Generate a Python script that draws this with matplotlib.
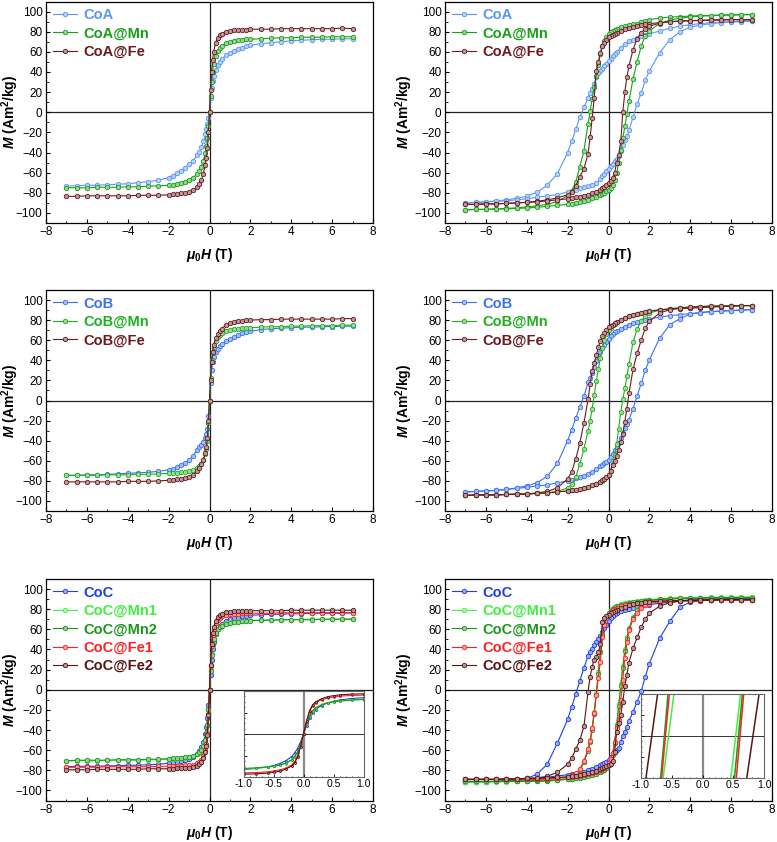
import matplotlib
matplotlib.use('Agg')
import matplotlib.pyplot as plt
from matplotlib.ticker import MultipleLocator
from matplotlib.colors import to_rgb

plt.rcParams['font.family'] = ['Liberation Sans', 'DejaVu Sans']
plt.rcParams['mathtext.fontset'] = 'custom'
plt.rcParams['mathtext.rm'] = 'Liberation Sans:bold'
plt.rcParams['mathtext.it'] = 'Liberation Sans:italic:bold'
plt.rcParams['mathtext.bf'] = 'Liberation Sans:bold'

# ---------------- field grids (T) ----------------
H_rt = [-7, -6.5, -6, -5.5, -5, -4.5, -4, -3.5, -3, -2.5, -2,
        -1.8, -1.6, -1.4, -1.2, -1, -0.8, -0.6, -0.5, -0.4, -0.3, -0.2, -0.15, -0.1, -0.05,
        0,
        0.05, 0.1, 0.15, 0.2, 0.3, 0.4, 0.5, 0.6, 0.8, 1, 1.2, 1.4, 1.6, 1.8,
        2, 2.5, 3, 3.5, 4, 4.5, 5, 5.5, 6, 6.5, 7]

H_down = [7, 6.5, 6, 5.5, 5, 4.5, 4, 3.5, 3, 2.5, 2,
          1.8, 1.6, 1.4, 1.2, 1, 0.8, 0.6, 0.4,
          0.3, 0.2, 0.1, 0,
          -0.1, -0.2, -0.3, -0.4, -0.5, -0.6, -0.7, -0.8, -0.9, -1,
          -1.2, -1.4, -1.6, -1.8, -2,
          -2.5, -3, -3.5, -4, -4.5, -5, -5.5, -6, -6.5, -7]

H_up = [-7, -6.5, -6, -5.5, -5, -4.5, -4, -3.5, -3, -2.5, -2,
        -1.8, -1.6, -1.4, -1.2, -1, -0.8, -0.6, -0.4,
        -0.3, -0.2, -0.1, 0,
        0.1, 0.2, 0.3, 0.4, 0.5, 0.6, 0.7, 0.8, 0.9, 1,
        1.2, 1.4, 1.6, 1.8, 2,
        2.5, 3, 3.5, 4, 4.5, 5, 5.5, 6, 6.5, 7]

# ---------------- left column: M(H) curves ----------------
coa_rt = [-73.5, -73, -72.5, -72.5, -72, -71.5, -71, -70, -69, -67.5, -65,
          -63, -60.5, -58, -55, -51.5, -48, -42.5, -39.5, -35, -29, -22, -17, -12, -6,
          0,
          14, 24, 31, 36, 42, 47, 50, 53, 56.5, 59, 61, 62.5, 64, 65.5,
          66.5, 68, 69, 70, 71, 71.5, 72, 72.5, 72.5, 73, 73]
coa_mn_rt = [-75, -75, -75, -74.5, -74.5, -74.5, -74, -74, -73.5, -73, -72.5,
             -72, -71, -70, -69, -67, -65, -61, -58, -54, -48, -40, -34, -26, -14,
             0,
             16, 30, 40, 48, 56, 61, 64, 66, 68.5, 70, 71, 71.5, 72, 72.5,
             72.5, 73, 73.5, 74, 74, 74.5, 74.5, 74.5, 75, 75, 75]
coa_fe_rt = [-83.5, -83.5, -83, -83, -83, -83, -83, -82.5, -82.5, -82.5, -82,
             -81.5, -81, -80.5, -80, -79, -77.5, -74, -71, -67, -61, -52, -45, -36, -20,
             0,
             22, 40, 52, 60, 69, 74, 76.5, 78, 80, 81, 81.5, 82, 82, 82,
             82.5, 82.5, 82.5, 83, 83, 83, 83, 83, 83, 83.5, 83]

cob_rt = [-74.5, -74.5, -74, -74, -73.5, -73, -72.5, -72, -71.5, -70.5, -69,
          -68, -66.5, -64.5, -62, -59, -55, -49, -46, -44, -41, -37, -33, -28, -15,
          0,
          17, 30, 38, 43, 48, 51.5, 54, 56, 59, 61.5, 63.5, 65.5, 67, 68,
          69, 70.5, 71.5, 72, 72.5, 73, 73, 73.5, 73.5, 74, 74]
cob_mn_rt = [-74.5, -74.5, -74.5, -74.5, -74, -74, -74, -73.5, -73.5, -73, -72.5,
             -72.5, -72, -71.5, -71, -70.5, -69, -67, -65.5, -63, -59, -53, -48, -40, -22,
             0,
             22, 40, 48, 53, 59, 63, 65.5, 67, 69, 70.5, 71, 71.5, 72, 72.5,
             72.5, 73, 73.5, 73.5, 74, 74, 74.5, 74.5, 74.5, 75, 75]
cob_fe_rt = [-81, -81, -81, -81, -81, -81, -80.5, -80.5, -80.5, -80, -79.5,
             -79, -78.5, -78, -77, -76, -74, -70, -67, -63, -59, -52, -46, -37, -20,
             0,
             20, 38, 48, 55, 62, 66, 69, 71.5, 75, 77, 78, 79, 79.5, 80,
             80, 80.5, 80.5, 81, 81, 81, 81, 81, 81, 81.5, 81.5]

coc_rt = [-76.5, -76, -76, -76, -75.5, -75.5, -75, -75, -74.5, -74, -73,
          -72.5, -72, -71, -70, -68.5, -66.5, -63.5, -61, -57, -52, -44, -37, -28, -15,
          0,
          15, 30, 40, 47, 55, 60, 63, 65.5, 68.5, 70, 71.5, 72.5, 73, 73.5,
          74, 74.5, 75, 75, 75.5, 75.5, 76, 76, 76, 76, 76.5]
coc_mn1_rt = [-70.5, -70.5, -70.5, -70.5, -70, -70, -70, -70, -69.5, -69.5, -69,
              -68.5, -68.5, -68, -67.5, -67, -66, -64, -62.5, -60.5, -57, -51, -45, -36, -20,
              0,
              20, 36, 45, 51, 57, 60.5, 62.5, 64, 66, 67, 67.5, 68, 68.5, 68.5,
              69, 69, 69.5, 69.5, 69.5, 70, 70, 70, 70, 70.5, 70.5]
coc_mn2_rt = [-70.5, -70, -70, -70, -70, -69.5, -69.5, -69.5, -69, -69, -68.5,
              -68, -68, -67.5, -67, -66.5, -65.5, -63.5, -62, -60, -56, -50, -44, -35, -19,
              0,
              19, 35, 44, 50, 56, 60, 62, 63.5, 65.5, 66.5, 67, 67.5, 68, 68.5,
              68.5, 69, 69, 69.5, 69.5, 69.5, 69.5, 70, 70, 70, 70]
coc_fe1_rt = [-77, -77, -77, -77, -76.5, -76.5, -76.5, -76.5, -76.5, -76, -76,
              -76, -75.5, -75.5, -75, -75, -74.5, -73, -71.5, -69.5, -66, -60, -54, -43, -24,
              0,
              24, 43, 54, 60, 66, 69.5, 71.5, 73, 74.5, 75, 75.5, 75.5, 76, 76,
              76, 76, 76, 76.5, 76.5, 76.5, 76.5, 76.5, 76.5, 76.5, 76.5]
coc_fe2_rt = [-79.5, -79.5, -79.5, -79, -79, -79, -79, -79, -78.5, -78.5, -78.5,
              -78.5, -78, -78, -78, -77.5, -77, -75.5, -74, -72, -68, -62, -56, -45, -25,
              0,
              25, 45, 56, 62, 68, 72, 74, 75.5, 77, 77.5, 78, 78, 78, 78.5,
              78.5, 78.5, 78.5, 78.5, 79, 79, 79, 79, 79, 79, 79]

# ---------------- right column: hysteresis loops ----------------
coa_down = [91, 90.5, 90, 89.5, 89, 88, 87, 85.5, 83.5, 80.5, 78,
            77, 75.5, 74, 72, 70.5, 67.5, 63.5, 60,
            58, 56, 53, 50.5,
            48, 46, 43, 41, 38.5, 35, 28, 23, 19, 14,
            5, -5, -17, -29, -40,
            -61, -72.5, -79.5, -83.5, -85.5, -87, -88, -89, -89.5, -90]
coa_up = [-90, -89.5, -89, -88.5, -88, -87, -86, -84.5, -83, -82, -79,
          -78, -77, -75.5, -74.5, -73.5, -72.5, -70.5, -66,
          -63.5, -61, -58.5, -56,
          -53.5, -51, -48.5, -46, -43, -38, -33, -28, -24, -18,
          -5, 8, 19, 32, 41,
          59, 72, 80, 84.5, 86.5, 88, 89, 89.5, 90, 90.5]
coa_mn_down = [97, 97, 96.5, 96.5, 96, 96, 95.5, 95, 94.5, 93.5, 92,
               91, 90, 88, 87.5, 86.5, 86, 84.5, 83,
               82, 81, 80, 78,
               75, 71, 66, 58, 47, 36, 25, 13, 1, -12,
               -38, -54, -69, -78, -83,
               -88.5, -91.5, -93, -94, -95, -95.5, -96, -96.5, -96.5, -97]
coa_mn_up = [-97, -96.5, -96.5, -96, -96, -95.5, -95, -94.5, -93.5, -92.5, -91.5,
             -91, -90, -89, -88, -87, -85.5, -84, -82.5,
             -81.5, -80, -78.5, -77,
             -75, -72, -67, -60, -50, -37, -26, -14, -2, 11,
             33, 50, 66, 76, 81,
             88, 91.5, 93.5, 94.5, 95.5, 96, 96.5, 96.5, 97, 97]
coa_fe_down = [92, 92, 92, 91.5, 91.5, 91, 91, 90.5, 90, 89, 88,
               87.5, 86.5, 86, 85, 84, 82.5, 81, 79,
               78, 77, 76, 74.5,
               72, 69, 66, 59, 50, 41, 14, -6, -25, -41,
               -56, -64, -73, -79.5, -82,
               -85, -87, -88.5, -89.5, -90, -90.5, -91, -91, -91.5, -91.5]
coa_fe_up = [-91.5, -91.5, -91, -91, -90.5, -90, -89.5, -89, -88, -87, -86,
             -85, -84.5, -84, -83, -82, -80.5, -79, -77,
             -75.5, -74, -72, -70,
             -68, -65, -60, -50, -42, -29, 0, 20, 35, 46,
             62, 73, 79, 83, 85.5,
             88.5, 90, 90.5, 91, 91.5, 91.5, 92, 92, 92, 92]

cob_down = [90.5, 90, 89.5, 89, 88.5, 87.5, 86.5, 85.5, 84.5, 83, 81,
            80, 79, 78, 77, 75.5, 73.5, 71.5, 69,
            68, 66, 64, 61.5,
            58.5, 55.5, 52, 48, 44, 39, 33, 27, 22, 18,
            4.5, -6.5, -17.5, -29, -40,
            -62.5, -75.5, -82, -85, -87, -88.5, -89.5, -90, -90.5, -91]
cob_up = [-91, -90.5, -90, -89.5, -88.5, -87.5, -86.5, -85, -84, -82, -80,
          -79, -77.5, -76.5, -75, -73, -71, -68.5, -65.5,
          -64, -62.5, -61, -59,
          -56, -53, -49.5, -46, -42, -37, -32, -27, -23, -19,
          -8, 4.5, 17, 30, 40.5,
          62, 75.5, 81.5, 86, 87.5, 88.5, 89, 89.5, 90, 90.5]
cob_mn_down = [94.5, 94.5, 94, 94, 93.5, 93, 92.5, 92, 91, 90.5, 89,
               88, 87, 86, 85, 84, 82.5, 80.5, 78,
               76.5, 75, 72.5, 70,
               66, 60, 52, 42, 31, 19, 5, -8, -20, -30,
               -48, -63, -76, -83.5, -87,
               -90.5, -92, -92.5, -93, -93.5, -93.5, -94, -94, -94.5, -94.5]
cob_mn_up = [-94.5, -94.5, -94, -94, -93.5, -93.5, -93, -92.5, -92, -91, -90,
             -89.5, -89, -88, -87, -86, -84.5, -83, -81,
             -80, -78.5, -76.5, -74,
             -70, -63, -54, -43, -28, -11, 1, 12, 24, 36,
             58, 71, 79, 84, 87,
             90, 91.5, 92.5, 93, 93.5, 94, 94, 94, 94.5, 94.5]
cob_fe_down = [94.5, 94.5, 94, 93.5, 93, 92.5, 92, 91.5, 91, 90, 89,
               88.5, 87.5, 86.5, 85.5, 84, 82.5, 80.5, 78,
               77, 75.5, 74.5, 73,
               70.5, 67.5, 64, 59, 53, 45, 37, 29, 16, 1,
               -22, -42, -58, -71, -78,
               -87, -90.5, -92, -93, -93.5, -93.5, -94, -94, -94, -94.5]
cob_fe_up = [-94.5, -94, -94, -94, -93.5, -93, -93, -92.5, -92, -91, -90,
             -89.5, -89, -88, -87, -86, -84.5, -83, -81,
             -79.5, -78, -76, -74,
             -70, -64, -60, -55, -49, -41, -33, -21, -8, 7,
             31, 47, 60, 72, 79,
             87, 90.5, 92, 93, 93.5, 94, 94, 94, 94.5, 94.5]

coc_down = [91, 91, 90.5, 90.5, 90, 89.5, 89, 88, 87, 86, 84.5,
            84, 83, 82, 81, 80, 79, 78, 76,
            75, 73, 71, 68,
            64, 61, 57, 53, 50, 47, 44, 40.5, 37, 33.5,
            22, 9, -4, -17, -29.5,
            -53, -74, -84, -88, -89.5, -90.5, -91, -91.5, -91.5, -92]
coc_up = [-92, -91.5, -91.5, -91, -90.5, -90, -89, -88, -87, -85.5, -84.5,
          -84, -83.5, -83, -82, -80, -78.5, -77, -75,
          -74, -73, -72, -70,
          -67, -64, -62, -60, -57.5, -52, -46, -42, -37, -31,
          -22, -12, -1.5, 13, 26,
          51, 68, 82, 87, 88.5, 89.5, 90, 90.5, 91, 91]
coc_mn1_down = [92, 92, 92, 91.5, 91.5, 91.5, 91, 91, 90.5, 90, 89.5,
                89, 88.5, 88, 87.5, 87, 86, 85, 83.5,
                82.5, 81, 79, 76.5,
                73, 66, 55, 38, 18, -3, -22, -38, -50, -59,
                -71, -79, -84, -86.5, -88,
                -90, -90.5, -91, -91, -91, -91.5, -91.5, -91.5, -91.5, -91.5]
coc_mn1_up = [-91.5, -91.5, -91.5, -91, -91, -91, -90.5, -90.5, -90, -89.5, -89,
              -88.5, -88, -87.5, -87, -86, -85, -84, -82,
              -81, -79.5, -77.5, -75,
              -71, -64, -52, -34, -14, 6, 24, 40, 52, 61,
              72, 80, 85, 87.5, 89,
              90.5, 91, 91.5, 91.5, 91.5, 92, 92, 92, 92, 92]
coc_mn2_down = [91.5, 91.5, 91.5, 91, 91, 91, 90.5, 90.5, 90, 89.5, 89,
                88.5, 88, 87.5, 87, 86.5, 85.5, 84.5, 83,
                82, 80.5, 78.5, 76,
                72.5, 65.5, 54, 37, 16, -5, -24, -40, -52, -60.5,
                -72, -80, -84.5, -87, -88.5,
                -90, -90.5, -91, -91, -91, -91, -91, -91, -91, -91]
coc_mn2_up = [-91, -91, -91, -91, -90.5, -90.5, -90.5, -90, -90, -89.5, -89,
              -88.5, -88, -87.5, -87, -86, -85, -84, -82,
              -81, -79.5, -77.5, -75,
              -71, -64.5, -53, -36, -16, 4, 22, 38, 50.5, 60,
              71.5, 79.5, 84.5, 87, 88.5,
              90, 90.5, 91, 91, 91, 91.5, 91.5, 91.5, 91.5, 91.5]
coc_fe1_down = [89, 89, 89, 89, 89, 88.5, 88.5, 88.5, 88, 88, 87.5,
                87, 86.5, 86, 85.5, 85, 84, 83, 81.5,
                80.5, 79, 77, 74.5,
                71, 64, 52, 28, 12, -5, -23, -38, -51, -59,
                -71, -79, -83, -85, -86.5,
                -88, -88.5, -89, -89, -89, -89, -89, -89, -89, -89]
coc_fe1_up = [-89, -89, -89, -89, -89, -89, -89, -88.5, -88.5, -88, -87,
              -86.5, -86, -85.5, -85, -84, -83, -82, -80,
              -79, -77.5, -75.5, -73,
              -69, -63, -52, -38, -30, -10, 10, 32, 47, 59,
              70, 76.5, 81.5, 84, 85.5,
              87.5, 88, 88.5, 88.5, 89, 89, 89, 89, 89, 89]
coc_fe2_down = [89.5, 89.5, 89.5, 89.5, 89, 89, 89, 88.5, 88.5, 88, 87.5,
                87, 86.5, 86, 85, 84, 82.5, 81, 79,
                78, 77, 76, 74.5,
                73, 71.5, 67, 45, 37, 33, 30, 23, 13, -2,
                -36, -50, -59, -68, -74,
                -82, -86, -87.5, -88, -88.5, -88.5, -89, -89, -89, -89]
coc_fe2_up = [-89, -89, -89, -89, -88.5, -88.5, -88, -88, -87.5, -87, -86.5,
              -86, -85.5, -85, -84, -83, -82, -80.5, -79,
              -78, -77, -76, -75,
              -73.5, -71, -62, -42, -33, -25, -12, 4, 15, 27,
              41, 52, 62, 70, 76,
              83, 86.5, 88, 88.5, 89, 89, 89.5, 89.5, 89.5, 89.5]

# zoomed inset of the CoC loops: field where each branch enters / leaves the window
inset_M = [-20, 20]
inset_fe2 = ([-0.92, -0.73], [0.72, 0.92])
inset_fe1 = ([-0.665, -0.54], [0.55, 0.67])
inset_mn2 = ([-0.68, -0.56], [0.52, 0.65])
inset_mn1 = ([-0.64, -0.465], [0.46, 0.62])

# ---------------- colours ----------------
c_coa, c_cob, c_coc = '#5a96f2', '#3b70f0', '#1f3fe0'
c_mn, c_mn_b = '#17a017', '#1fae1f'
c_mn1, c_mn2 = '#3ff03f', '#1a961a'
c_fe, c_fe1, c_fe2 = '#6b1b1f', '#ff2020', '#5a1414'


def light(c, f=0.55):
    r, g, b = to_rgb(c)
    return (r + (1 - r) * f, g + (1 - g) * f, b + (1 - b) * f)


def curve(ax, H, M, c, label=None, ms=3.2, lw=0.8, marker='o'):
    ax.plot(H, M, '-', marker=marker, color=c, lw=lw, ms=ms, mfc=light(c),
            mec=c, mew=0.6, label=label)


def style(ax, ylab_x):
    ax.set_xlim(-8, 8)
    ax.set_ylim(-110, 110)
    ax.xaxis.set_major_locator(MultipleLocator(2))
    ax.xaxis.set_minor_locator(MultipleLocator(1))
    ax.yaxis.set_major_locator(MultipleLocator(20))
    ax.yaxis.set_minor_locator(MultipleLocator(10))
    ax.tick_params(which='both', direction='in', labelsize=8.5, pad=2.5)
    ax.tick_params(which='major', length=3, width=0.8)
    ax.tick_params(which='minor', length=1.8, width=0.6)
    ax.axhline(0, color='#222222', lw=0.9, zorder=0.5)
    ax.axvline(0, color='#222222', lw=0.9, zorder=0.5)
    for s in ax.spines.values():
        s.set_linewidth(0.9)
    ax.set_xlabel(r'$\mu_{\mathit{0}}H$ (T)', fontsize=10, fontweight='bold')
    ax.set_ylabel(r'$M$ (Am$^2$/kg)', fontsize=10, fontweight='bold')
    ax.xaxis.label.set_va('center')
    ax.yaxis.label.set_va('center')
    ax.xaxis.set_label_coords(0.5, -0.145)
    ax.yaxis.set_label_coords(ylab_x, 0.5)


def legend(ax):
    leg = ax.legend(loc='upper left', frameon=False, prop=dict(weight='bold', size=10.5),
                    handlelength=1.7, handletextpad=0.4, borderaxespad=0.25,
                    borderpad=0.2, labelspacing=0.3)
    for t, h in zip(leg.get_texts(), leg.get_lines()):
        t.set_color(h.get_color())


fig = plt.figure(figsize=(7.77, 8.42), dpi=100)
W, Hf = 777, 842
lefts = [46 / W, 445 / W]
width = 327 / W
rows = [(1.5, 223), (290, 511), (579, 800.5)]
axes = []
for top, bot in rows:
    r = []
    for l in lefts:
        r.append(fig.add_axes([l, 1 - bot / Hf, width, (bot - top) / Hf]))
    axes.append(r)

# row 1 : CoA
ax = axes[0][0]
curve(ax, H_rt, coa_rt, c_coa, 'CoA')
curve(ax, H_rt, coa_mn_rt, c_mn, 'CoA@Mn')
curve(ax, H_rt, coa_fe_rt, c_fe, 'CoA@Fe')
style(ax, -0.108)
legend(ax)

ax = axes[0][1]
curve(ax, H_down, coa_down, c_coa, 'CoA')
curve(ax, H_up, coa_up, c_coa)
curve(ax, H_down, coa_mn_down, c_mn, 'CoA@Mn')
curve(ax, H_up, coa_mn_up, c_mn)
curve(ax, H_down, coa_fe_down, c_fe, 'CoA@Fe')
curve(ax, H_up, coa_fe_up, c_fe)
style(ax, -0.125)
legend(ax)

# row 2 : CoB
ax = axes[1][0]
curve(ax, H_rt, cob_rt, c_cob, 'CoB')
curve(ax, H_rt, cob_mn_rt, c_mn_b, 'CoB@Mn')
curve(ax, H_rt, cob_fe_rt, c_fe, 'CoB@Fe')
style(ax, -0.108)
legend(ax)

ax = axes[1][1]
curve(ax, H_down, cob_down, c_cob, 'CoB')
curve(ax, H_up, cob_up, c_cob)
curve(ax, H_down, cob_mn_down, c_mn_b, 'CoB@Mn')
curve(ax, H_up, cob_mn_up, c_mn_b)
curve(ax, H_down, cob_fe_down, c_fe, 'CoB@Fe')
curve(ax, H_up, cob_fe_up, c_fe)
style(ax, -0.125)
legend(ax)

# row 3 : CoC
coc_rt_series = [(coc_rt, c_coc, 'CoC'), (coc_mn1_rt, c_mn1, 'CoC@Mn1'),
                 (coc_mn2_rt, c_mn2, 'CoC@Mn2'), (coc_fe1_rt, c_fe1, 'CoC@Fe1'),
                 (coc_fe2_rt, c_fe2, 'CoC@Fe2')]
ax = axes[2][0]
for M, c, lab in coc_rt_series:
    curve(ax, H_rt, M, c, lab)
style(ax, -0.108)
legend(ax)

ax = axes[2][1]
loops = [(coc_down, coc_up, c_coc, 'CoC'), (coc_mn1_down, coc_mn1_up, c_mn1, 'CoC@Mn1'),
         (coc_mn2_down, coc_mn2_up, c_mn2, 'CoC@Mn2'), (coc_fe1_down, coc_fe1_up, c_fe1, 'CoC@Fe1'),
         (coc_fe2_down, coc_fe2_up, c_fe2, 'CoC@Fe2')]
for d, u, c, lab in loops:
    curve(ax, H_down, d, c, lab)
    curve(ax, H_up, u, c)
style(ax, -0.125)
legend(ax)


def inset_style(ia, ylim):
    ia.set_xlim(-1, 1)
    ia.set_ylim(*ylim)
    ia.xaxis.set_major_locator(MultipleLocator(0.5))
    ia.xaxis.set_minor_locator(MultipleLocator(0.1))
    ia.yaxis.set_major_locator(MultipleLocator((ylim[1] - ylim[0]) / 4))
    ia.yaxis.set_minor_locator(MultipleLocator((ylim[1] - ylim[0]) / 16))
    ia.set_yticklabels([])
    ia.tick_params(which='both', direction='in', labelsize=7.5, pad=1.5)
    ia.tick_params(which='major', length=2, width=0.6)
    ia.tick_params(which='minor', length=1, width=0.5)
    ia.xaxis.set_major_formatter(plt.FormatStrFormatter('%.1f'))
    ia.axvline(0, color='#888888', lw=1.6, zorder=0.5)
    ia.axhline(0, color='#333333', lw=0.7, zorder=0.5)
    for s in ia.spines.values():
        s.set_color('#666666')
        s.set_linewidth(0.8)


ia = fig.add_axes([243.5 / W, 1 - 777 / Hf, 120 / W, 86 / Hf])
for M, c, lab in coc_rt_series:
    curve(ia, H_rt, M, c, ms=1.4, lw=0.8)
inset_style(ia, (-83, 83))

ib = fig.add_axes([641 / W, 1 - 778 / Hf, 123 / W, 84 / Hf])
for (lft, rgt), c in [(inset_mn1, c_mn1), (inset_mn2, c_mn2), (inset_fe1, c_fe1), (inset_fe2, c_fe2)]:
    ib.plot(lft, inset_M, color=c, lw=1.1)
    ib.plot(rgt, inset_M, color=c, lw=1.1)
inset_style(ib, (-20, 20))

fig.savefig('out.png', dpi=100)
